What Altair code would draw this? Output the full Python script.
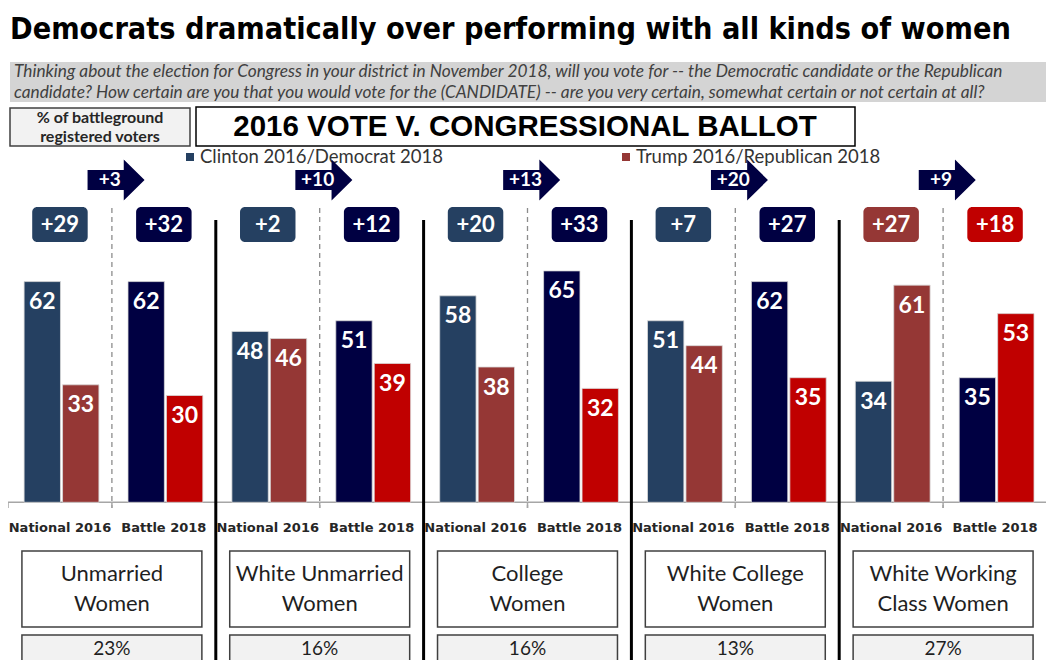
import altair as alt
import pandas as pd

# ---------------- data ----------------
groups = ["Unmarried\nWomen", "White Unmarried\nWomen", "College\nWomen",
          "White College\nWomen", "White Working\nClass Women"]
shares = ["23%", "16%", "16%", "13%", "27%"]
periods = ["National 2016", "Battle 2018"]
dem_2016 = [62, 48, 58, 51, 34]
rep_2016 = [33, 46, 38, 44, 61]
dem_2018 = [62, 51, 65, 62, 35]
rep_2018 = [30, 39, 32, 35, 53]
margin_2016 = ["+29", "+2", "+20", "+7", "+27"]
margin_2018 = ["+32", "+12", "+33", "+27", "+18"]
shift_labels = ["+3", "+10", "+13", "+20", "+9"]
legend_labels = ["Clinton 2016/Democrat 2018", "Trump 2016/Republican 2018"]
title_text = "Democrats dramatically over performing with all kinds of women"
question_lines = [
    "Thinking about the election for Congress in your district in November 2018, will you vote for -- the Democratic candidate or the Republican",
    "candidate? How certain are you that you would vote for the (CANDIDATE) -- are you very certain, somewhat certain or not certain at all?",
]
side_note = "% of battleground\nregistered voters"
heading = "2016 VOTE V. CONGRESSIONAL BALLOT"

# ---------------- styles ----------------
FONT = "Lato"
TITLE_FONT = "DejaVu Sans Condensed, DejaVu Sans, sans-serif"
keys = ["dem16", "rep16", "dem18", "rep18"]
colors = ["#254061", "#953735", "#000042", "#c00000"]
cs = alt.Scale(domain=keys, range=colors)


def X(v):
    return v - 8


def Y(v):
    return v - 8


xs = alt.Scale(domain=[0, 10], range=[0, 1039], nice=False, zero=False)
ys = alt.Scale(domain=[0, 100], range=[Y(502.3), Y(502.3) - 356], nice=False, zero=False)

one = pd.DataFrame({"t": [""]})


def label(text, x, y, **kw):
    return alt.Chart(pd.DataFrame({"t": [text]})).mark_text(**kw).encode(
        x=alt.value(X(x)), y=alt.value(Y(y)), text="t:N")


def box(x0, x1, y0, y1, **kw):
    return alt.Chart(one).mark_rect(**kw).encode(
        x=alt.value(X(x0)), x2=alt.value(X(x1)), y=alt.value(Y(y0)), y2=alt.value(Y(y1)))


# ---------------- tables built from the arrays ----------------
bars, margins = [], []
for g in range(5):
    pairs = [(dem_2016[g], rep_2016[g], margin_2016[g]), (dem_2018[g], rep_2018[g], margin_2018[g])]
    for p, (dv, rv, ml) in enumerate(pairs):
        c = 2 * g + p + 0.5
        suf = "16" if p == 0 else "18"
        bars.append(dict(x0=c - 0.345, x1=c + 0.005, xm=c - 0.17, v=dv, key="dem" + suf, lab=str(dv)))
        bars.append(dict(x0=c + 0.025, x1=c + 0.375, xm=c + 0.2, v=rv, key="rep" + suf, lab=str(rv)))
        margins.append(dict(c=c, b0=c - 0.267, b1=c + 0.267, lab=ml,
                            key=("dem" if dv > rv else "rep") + suf, period=periods[p]))
bar_df = pd.DataFrame(bars)
margin_df = pd.DataFrame(margins)

grp_df = pd.DataFrame({
    "gc": [2 * g + 1 for g in range(5)],
    "b0": [2 * g + 1 - 0.866 for g in range(5)],
    "b1": [2 * g + 1 + 0.866 for g in range(5)],
    "name": groups,
    "share": shares,
    "shift": shift_labels,
    "ax": [2 * g + 1.04 for g in range(5)],
    "tx": [2 * g + 1.04 - 0.06 for g in range(5)],
})
sep_df = pd.DataFrame({"s": [2, 4, 6, 8]})
tick_df = pd.DataFrame({"s": list(range(11))})

XQ = lambda f: alt.X(f, scale=xs, axis=None)
YQ = lambda f: alt.Y(f, scale=ys, axis=None)

ARROW = "M -1 -0.35 L 0.27 -0.35 L 0.27 -0.72 L 1 0 L 0.27 0.72 L 0.27 0.35 L -1 0.35 Z"

layers = []

# header
layers.append(label(title_text, 10, 30, align="left", baseline="middle", font=TITLE_FONT,
                    fontSize=30.3, fontWeight="bold", color="#000000"))
layers.append(box(10, 1052, 62, 102, fill="#d4d4d4"))
layers.append(label(question_lines[0], 14, 72, align="left", baseline="middle", font=FONT,
                    fontSize=17.3, fontStyle="italic", color="#404040"))
layers.append(label(question_lines[1], 14, 93, align="left", baseline="middle", font=FONT,
                    fontSize=17.3, fontStyle="italic", color="#404040"))
layers.append(box(10, 190, 108, 146, fill="#f2f2f2", stroke="#404040", strokeWidth=1.5))
layers.append(label(side_note, 100, 117.5, align="center", baseline="middle", font=FONT,
                    fontSize=16, fontWeight="bold", color="#262626", lineBreak="\n", lineHeight=19))
layers.append(box(196, 855, 107, 146, fill="#ffffff", stroke="#000000", strokeWidth=1.5))
layers.append(label(heading, 525, 127, align="center", baseline="middle", font="Liberation Sans",
                    fontSize=29.5, fontWeight="bold", color="#000000"))

# legend
layers.append(box(186, 194, 153, 161, fill=colors[0]))
layers.append(label(legend_labels[0], 200, 157, align="left", baseline="middle", font=FONT,
                    fontSize=18.5, color="#333333"))
layers.append(box(622, 630, 153, 161, fill=colors[1]))
layers.append(label(legend_labels[1], 636, 157, align="left", baseline="middle", font=FONT,
                    fontSize=18.5, color="#333333"))

# guide lines
layers.append(alt.Chart(grp_df).mark_rule(strokeDash=[5, 4], color="#8c8c8c", strokeWidth=1.3).encode(
    x=XQ("gc:Q"), y=alt.value(Y(208)), y2=alt.value(Y(508))))
layers.append(alt.Chart(one).mark_rule(color="#a6a6a6", strokeWidth=1.5).encode(
    x=alt.value(0), x2=alt.value(1038), y=alt.value(Y(502.3))))
layers.append(alt.Chart(tick_df).mark_rule(color="#a6a6a6", strokeWidth=1.5).encode(
    x=XQ("s:Q"), y=alt.value(Y(502.3)), y2=alt.value(Y(508))))

# bars
layers.append(alt.Chart(bar_df).mark_rect(stroke="#d9d9d9", strokeWidth=0.8).encode(
    x=XQ("x0:Q"), x2="x1:Q", y=YQ("v:Q"), y2=alt.datum(0),
    color=alt.Color("key:N", scale=cs, legend=None)))
layers.append(alt.Chart(bar_df).mark_text(font=FONT, fontWeight="bold", fontSize=23, color="#ffffff",
                                          baseline="middle", dy=20.5).encode(
    x=XQ("xm:Q"), y=YQ("v:Q"), text="lab:N"))

# margin boxes
layers.append(alt.Chart(margin_df).mark_rect(cornerRadius=5).encode(
    x=XQ("b0:Q"), x2="b1:Q", y=alt.value(Y(207)), y2=alt.value(Y(242)),
    color=alt.Color("key:N", scale=cs, legend=None)))
layers.append(alt.Chart(margin_df).mark_text(font=FONT, fontWeight="bold", fontSize=22, color="#ffffff",
                                             baseline="middle").encode(
    x=XQ("c:Q"), y=alt.value(Y(225)), text="lab:N"))

# shift arrows
layers.append(alt.Chart(grp_df).mark_point(shape=ARROW, size=57 * 57, filled=True, fill=colors[2],
                                           strokeWidth=0, opacity=1).encode(
    x=XQ("ax:Q"), y=alt.value(Y(180))))
layers.append(alt.Chart(grp_df).mark_text(font=FONT, fontWeight="bold", fontSize=19, color="#ffffff",
                                          baseline="middle").encode(
    x=XQ("tx:Q"), y=alt.value(Y(180)), text="shift:N"))

# period labels
layers.append(alt.Chart(margin_df).mark_text(font="DejaVu Sans", fontWeight="bold", fontSize=13,
                                             color="#262626", baseline="middle").encode(
    x=XQ("c:Q"), y=alt.value(Y(528)), text="period:N"))

# group boxes
layers.append(alt.Chart(grp_df).mark_rect(fill="#ffffff", stroke="#404040", strokeWidth=1.5).encode(
    x=XQ("b0:Q"), x2="b1:Q", y=alt.value(Y(551)), y2=alt.value(Y(627))))
layers.append(alt.Chart(grp_df).mark_text(font=FONT, fontSize=22, color="#1f1f1f", baseline="middle",
                                          lineBreak="\n", lineHeight=30).encode(
    x=XQ("gc:Q"), y=alt.value(Y(574)), text="name:N"))
layers.append(alt.Chart(grp_df).mark_rect(fill="#f2f2f2", stroke="#404040", strokeWidth=1.5).encode(
    x=XQ("b0:Q"), x2="b1:Q", y=alt.value(Y(635)), y2=alt.value(Y(690))))
layers.append(alt.Chart(grp_df).mark_text(font=FONT, fontSize=19, color="#1f1f1f",
                                          baseline="middle").encode(
    x=XQ("gc:Q"), y=alt.value(Y(649)), text="share:N"))

# group separators
layers.append(alt.Chart(sep_df).mark_rule(color="#000000", strokeWidth=3).encode(
    x=XQ("s:Q"), y=alt.value(Y(220)), y2=alt.value(Y(680))))

chart = alt.layer(*layers).properties(
    width=1038, height=652, padding=0,
    autosize=alt.AutoSizeParams(type="none"),
).configure_view(stroke=None)

chart.save("out.html", embed_options={"renderer": "svg", "actions": False})
